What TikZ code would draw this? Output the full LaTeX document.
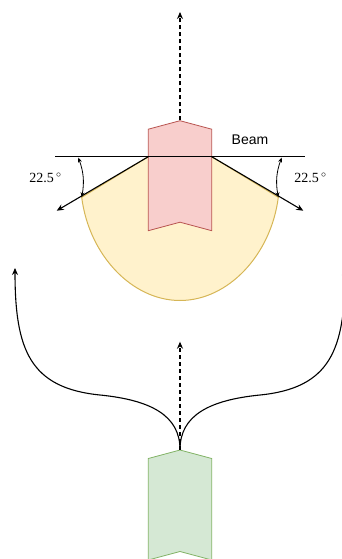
\documentclass[tikz,border=0pt]{standalone}
\usepackage{fontspec}
\setmainfont{Liberation Serif}
\setsansfont{Liberation Sans}
\usetikzlibrary{positioning,arrows.meta,shapes.symbols}
\definecolor{redfill}{HTML}{F8CECC}
\definecolor{redline}{HTML}{B85450}
\definecolor{yelfill}{HTML}{FFF2CC}
\definecolor{yelline}{HTML}{D6B656}
\definecolor{grnfill}{HTML}{D5E8D4}
\definecolor{grnline}{HTML}{82B366}
\begin{document}
\begin{tikzpicture}[x=1pt,y=-1pt,
  tip/.style={-{Stealth[length=7pt,width=6pt]}},
  arrowbox/.style={signal,signal to=north,signal from=south,signal pointer angle=150,
    inner sep=0pt,minimum width=63.4pt,minimum height=93pt,line width=0.8pt},
  ray/.style={tip,line width=1.1pt},
  dim/.style={{Stealth[length=5pt,width=4pt]}-{Stealth[length=5pt,width=4pt]},line width=0.8pt},
  lbl/.style={font=\fontsize{14}{16}\selectfont,inner sep=0pt}]
\useasboundingbox (0,0) rectangle (341,559);
% beam points
\coordinate (cl) at (148.3,156.7);
\coordinate (cr) at (211.7,156.7);
\coordinate (rayl) at (81.7,197.3);
\coordinate (rayr) at (278.3,197.3);
\coordinate (tipl) at (56.7,210.7);
\coordinate (tipr) at (303.3,210.7);
\coordinate (beaml) at (55,156.7);
\coordinate (beamr) at (305,156.7);
% lobe
\draw[fill=yelfill,draw=yelline,line width=1pt] (rayl) -- (cl) -- (cr) -- (rayr)
  .. controls (271,255) and (228,300.5) .. (180,300.5)
  .. controls (132,300.5) and (89,255) .. (rayl) -- cycle;
\node[arrowbox,fill=redfill,draw=redline] (tx) at (180,175.7) {};
\node[arrowbox,fill=grnfill,draw=grnline] (rx) at (180,505) {};
\draw[line width=1.1pt] (beaml) -- (beamr);
\draw[ray] (cl) -- (tipl);
\draw[ray] (cr) -- (tipr);
\draw[dim] (78.3,157.5) to[bend left=15] (rayl);
\draw[dim] (281.7,157.5) to[bend right=15] (rayr);
\node[lbl] (angl) at (45.5,178) {22.5\,$^\circ$};
\node[lbl] (angr) at (310.5,178) {22.5\,$^\circ$};
\node[lbl,font=\sffamily\fontsize{14}{16}\selectfont] (beam) at (250,140) {Beam};
% forward paths
\coordinate (up) at (180,12);
\coordinate (mid) at (180,341.7);
\coordinate (leftend) at (15,268);
\coordinate (rightend) at (345,268);
\draw[tip,dashed,line width=1.1pt,dash pattern=on 4pt off 3pt] (tx.north) -- (up);
\draw[tip,dashed,line width=1.1pt,dash pattern=on 4pt off 3pt] (rx.north) -- (mid);
\draw[tip,line width=1.1pt] (rx.north) .. controls (180,415) and (150,400) .. (100,395)
  .. controls (30,388) and (15,350) .. (leftend);
\draw[tip,line width=1.1pt] (rx.north) .. controls (180,415) and (210,400) .. (260,395)
  .. controls (330,388) and (345,350) .. (rightend);
\end{tikzpicture}
\end{document}
